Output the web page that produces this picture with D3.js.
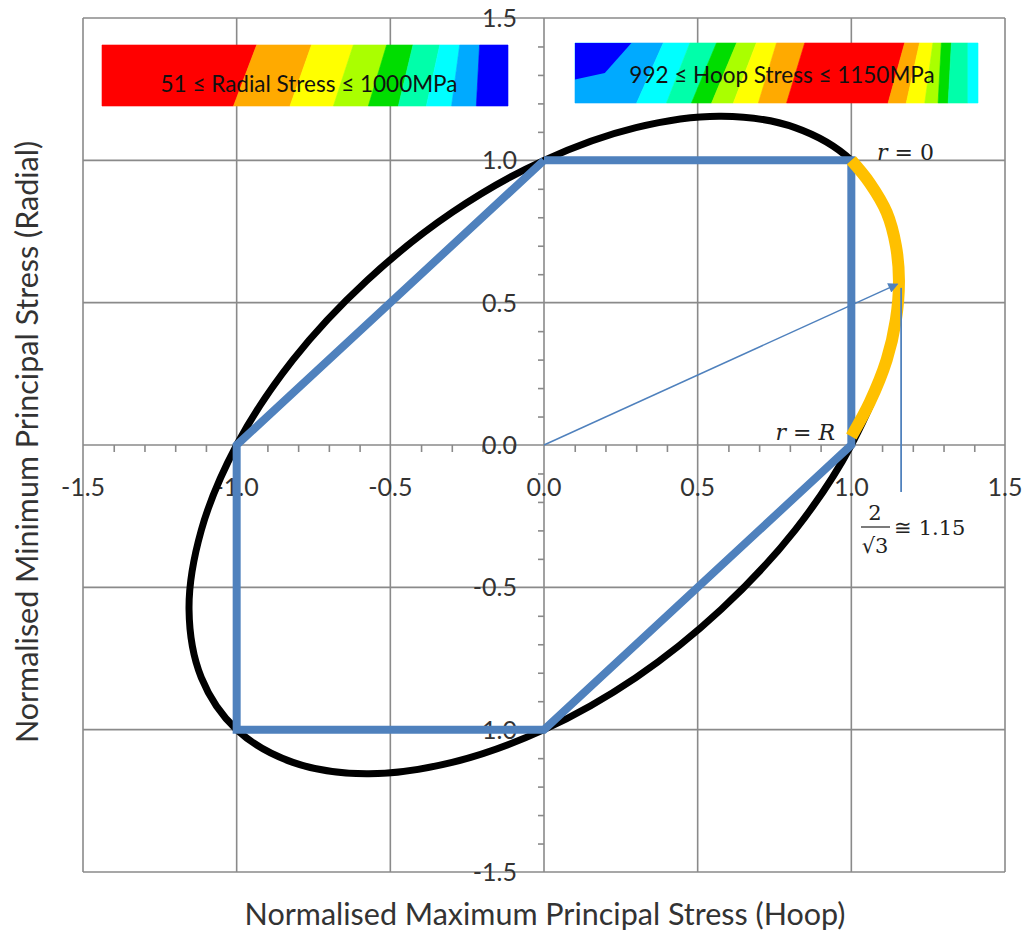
<!DOCTYPE html>
<html>
<head>
<meta charset="utf-8">
<script src="https://cdn.jsdelivr.net/npm/d3@7"></script>
<style>
  body { margin: 0; background: #fff; }
  svg { display: block; }
  .tick-label { font-family: Lato, "Noto Sans", sans-serif; font-size: 25px; fill: #333; }
  .axis-title { font-family: Lato, "Noto Sans", sans-serif; font-size: 30.5px; fill: #333; }
  .bar-text { font-family: Lato, "Noto Sans", sans-serif; font-size: 22.5px; fill: #111; }
  .math { font-family: "DejaVu Serif", serif; font-size: 21px; fill: #222; }
</style>
</head>
<body>
<svg id="chart" width="1029" height="932"></svg>
<script>
// axis ticks (both axes use the same values)
var majorTicks = [-1.5, -1.0, -0.5, 0.0, 0.5, 1.0, 1.5];
var minorTicks = [-1.4, -1.3, -1.2, -1.1, -0.9, -0.8, -0.7, -0.6, -0.4, -0.3, -0.2, -0.1,
                  0.1, 0.2, 0.3, 0.4, 0.6, 0.7, 0.8, 0.9, 1.1, 1.2, 1.3, 1.4];

// Tresca hexagon (blue)
var trescaX = [0, 1, 1, 0, -1, -1, 0];
var trescaY = [1, 1, 0, -1, -1, 0, 1];

// von Mises ellipse (black)
var misesX = [1.0, 1.115, 1.155, 1.115, 1.0, 0.817, 0.577, 0.299, 0.0, -0.299, -0.577, -0.817,
              -1.0, -1.115, -1.155, -1.115, -1.0, -0.817, -0.577, -0.299, 0.0, 0.299, 0.577, 0.817];
var misesY = [1.0, 0.817, 0.577, 0.299, 0.0, -0.299, -0.577, -0.817, -1.0, -1.115, -1.155, -1.115,
              -1.0, -0.817, -0.577, -0.299, 0.0, 0.299, 0.577, 0.817, 1.0, 1.115, 1.155, 1.115];

// highlighted part of the ellipse (orange), from r = 0 to r = R
var arcX = [1.0, 1.06, 1.115, 1.145, 1.155, 1.145, 1.115, 1.06, 1.0];
var arcY = [1.0, 0.92, 0.817, 0.70, 0.577, 0.44, 0.299, 0.15, 0.03];

// arrow from origin and the 2/sqrt(3) marker line
var arrowX = [0, 1.15];
var arrowY = [0, 0.565];
var markerX = [1.162, 1.162];
var markerY = [0.552, -0.165];

// colour bars (contour images): colours left to right, band edges as fraction of width
var radialColors = ["#ff0000", "#ffaa00", "#ffff00", "#aaff00", "#00dd00", "#00ffaa", "#00ffff", "#00aaff", "#0000ff"];
var radialTop    = [0.381, 0.516, 0.619, 0.701, 0.766, 0.832, 0.881, 0.930];
var radialBottom = [0.324, 0.463, 0.570, 0.656, 0.730, 0.799, 0.861, 0.922];

var hoopColors = ["#00aaff", "#00ffff", "#00ffaa", "#00dd00", "#aaff00", "#ffff00", "#ffaa00", "#ff0000",
                  "#ffaa00", "#ffff00", "#aaff00", "#00dd00", "#00ffaa", "#00ffff"];
var hoopTop    = [0.219, 0.285, 0.351, 0.401, 0.450, 0.500, 0.570, 0.818, 0.855, 0.888, 0.909, 0.934, 0.975];
var hoopBottom = [0.153, 0.227, 0.289, 0.339, 0.393, 0.455, 0.525, 0.777, 0.822, 0.868, 0.901, 0.926, 0.975];

var svg = d3.select("#chart");

var x = d3.scaleLinear().domain([-1.5, 1.5]).range([83, 1005]);
var y = d3.scaleLinear().domain([-1.5, 1.5]).range([872, 18]);

var gridColor = "#8a8a8a";

// gridlines (the outer ones make the frame)
svg.append("g").selectAll("line.v")
  .data(majorTicks).enter().append("line")
    .attr("x1", function (d) { return x(d); })
    .attr("x2", function (d) { return x(d); })
    .attr("y1", y(-1.5)).attr("y2", y(1.5))
    .attr("stroke", gridColor).attr("stroke-width", 1.6);

svg.append("g").selectAll("line.h")
  .data(majorTicks).enter().append("line")
    .attr("y1", function (d) { return y(d); })
    .attr("y2", function (d) { return y(d); })
    .attr("x1", x(-1.5)).attr("x2", x(1.5))
    .attr("stroke", gridColor).attr("stroke-width", 1.6);

// minor ticks on the axes through the origin
var xMinor = svg.append("g")
    .attr("transform", "translate(0," + y(0) + ")")
    .call(d3.axisBottom(x).tickValues(minorTicks).tickSize(7).tickFormat(""));
var yMinor = svg.append("g")
    .attr("transform", "translate(" + x(0) + ",0)")
    .call(d3.axisLeft(y).tickValues(minorTicks).tickSize(6).tickFormat(""));
[xMinor, yMinor].forEach(function (g) {
    g.select(".domain").remove();
    g.selectAll("line").attr("stroke", gridColor).attr("stroke-width", 1.6);
});

// tick labels
var fmt = function (d) { return d.toFixed(1); };
svg.append("g").selectAll("text")
  .data(majorTicks).enter().append("text")
    .attr("class", "tick-label")
    .attr("x", function (d) { return x(d); })
    .attr("y", 496)
    .attr("text-anchor", "middle")
    .text(fmt);
svg.append("g").selectAll("text")
  .data(majorTicks).enter().append("text")
    .attr("class", "tick-label")
    .attr("x", x(0) - 27)
    .attr("y", function (d) { return y(d); })
    .attr("dy", "0.36em")
    .attr("text-anchor", "end")
    .text(fmt);

// axis titles
svg.append("text").attr("class", "axis-title")
    .attr("x", 545).attr("y", 925)
    .attr("text-anchor", "middle")
    .text("Normalised Maximum Principal Stress (Hoop)");
svg.append("text").attr("class", "axis-title")
    .attr("transform", "translate(38," + 442 + ") rotate(-90)")
    .attr("text-anchor", "middle")
    .text("Normalised Minimum Principal Stress (Radial)");

// colour bars
function colourBar(x0, y0, w, h, colors, top, bottom) {
    var g = svg.append("g");
    var edgesTop = [0].concat(top, [1]);
    var edgesBot = [0].concat(bottom, [1]);
    colors.forEach(function (c, i) {
        var pts = [[x0 + edgesTop[i] * w, y0], [x0 + edgesTop[i + 1] * w, y0],
                   [x0 + edgesBot[i + 1] * w, y0 + h], [x0 + edgesBot[i] * w, y0 + h]];
        g.append("polygon")
            .attr("points", pts.map(function (p) { return p.join(","); }).join(" "))
            .attr("fill", c).attr("stroke", c).attr("stroke-width", 0.6);
    });
    return g;
}
colourBar(102, 45, 406, 61, radialColors, radialTop, radialBottom);
var hoop = colourBar(575, 43, 403, 60, hoopColors, hoopTop, hoopBottom);
hoop.append("polygon")
    .attr("points", [[575, 43], [575 + 0.140 * 403, 43], [575 + 0.074 * 403, 43 + 0.5 * 60], [575, 43 + 0.61 * 60]]
        .map(function (p) { return p.join(","); }).join(" "))
    .attr("fill", "#0000ff");

svg.append("text").attr("class", "bar-text")
    .attr("x", 309).attr("y", 92).attr("text-anchor", "middle")
    .text("51 \u2264 Radial Stress \u2264 1000MPa");
svg.append("text").attr("class", "bar-text")
    .attr("x", 782).attr("y", 83).attr("text-anchor", "middle")
    .text("992 \u2264 Hoop Stress \u2264 1150MPa");

// series
var zip = function (a, b) { return a.map(function (v, i) { return [v, b[i]]; }); };
var line = d3.line()
    .x(function (d) { return x(d[0]); })
    .y(function (d) { return y(d[1]); });

svg.append("path")
    .datum(zip(misesX, misesY))
    .attr("d", line.curve(d3.curveCatmullRomClosed))
    .attr("fill", "none").attr("stroke", "#000").attr("stroke-width", 7)
    .attr("stroke-linejoin", "round");

svg.append("path")
    .datum(zip(trescaX, trescaY))
    .attr("d", line.curve(d3.curveLinear))
    .attr("fill", "none").attr("stroke", "#4f81bd").attr("stroke-width", 8)
    .attr("stroke-linejoin", "miter");

svg.append("path")
    .datum(zip(arcX, arcY))
    .attr("d", line.curve(d3.curveCatmullRom))
    .attr("fill", "none").attr("stroke", "#ffc000").attr("stroke-width", 12);
line.curve(d3.curveLinear);

// arrow
svg.append("defs").append("marker")
    .attr("id", "arrow")
    .attr("viewBox", "0 0 10 10")
    .attr("refX", 9).attr("refY", 5)
    .attr("markerWidth", 12).attr("markerHeight", 10)
    .attr("markerUnits", "userSpaceOnUse")
    .attr("orient", "auto")
  .append("path")
    .attr("d", "M0,0L10,5L0,10Z")
    .attr("fill", "#4f81bd");

svg.append("path")
    .datum(zip(arrowX, arrowY))
    .attr("d", line)
    .attr("stroke", "#4f81bd").attr("stroke-width", 1.5)
    .attr("marker-end", "url(#arrow)");

svg.append("path")
    .datum(zip(markerX, markerY))
    .attr("d", line)
    .attr("stroke", "#4f81bd").attr("stroke-width", 1.8);

// annotations
var r0 = svg.append("text").attr("class", "math").attr("x", 877).attr("y", 160).style("font-size", "22px");
r0.append("tspan").attr("font-style", "italic").text("r");
r0.append("tspan").text(" = 0");

var rR = svg.append("text").attr("class", "math").attr("x", 835).attr("y", 440).attr("text-anchor", "end").style("font-size", "22px");
rR.append("tspan").attr("font-style", "italic").text("r");
rR.append("tspan").text(" = ");
rR.append("tspan").attr("font-style", "italic").text("R");

svg.append("text").attr("class", "math").attr("x", 875).attr("y", 520).attr("text-anchor", "middle").text("2");
svg.append("line").attr("x1", 861).attr("x2", 890).attr("y1", 527).attr("y2", 527)
    .attr("stroke", "#222").attr("stroke-width", 1.2);
svg.append("text").attr("class", "math").attr("x", 875).attr("y", 553).attr("text-anchor", "middle").text("\u221a3");
svg.append("text").attr("class", "math").attr("x", 894).attr("y", 535).text("\u2245 1.15");
</script>
</body>
</html>
